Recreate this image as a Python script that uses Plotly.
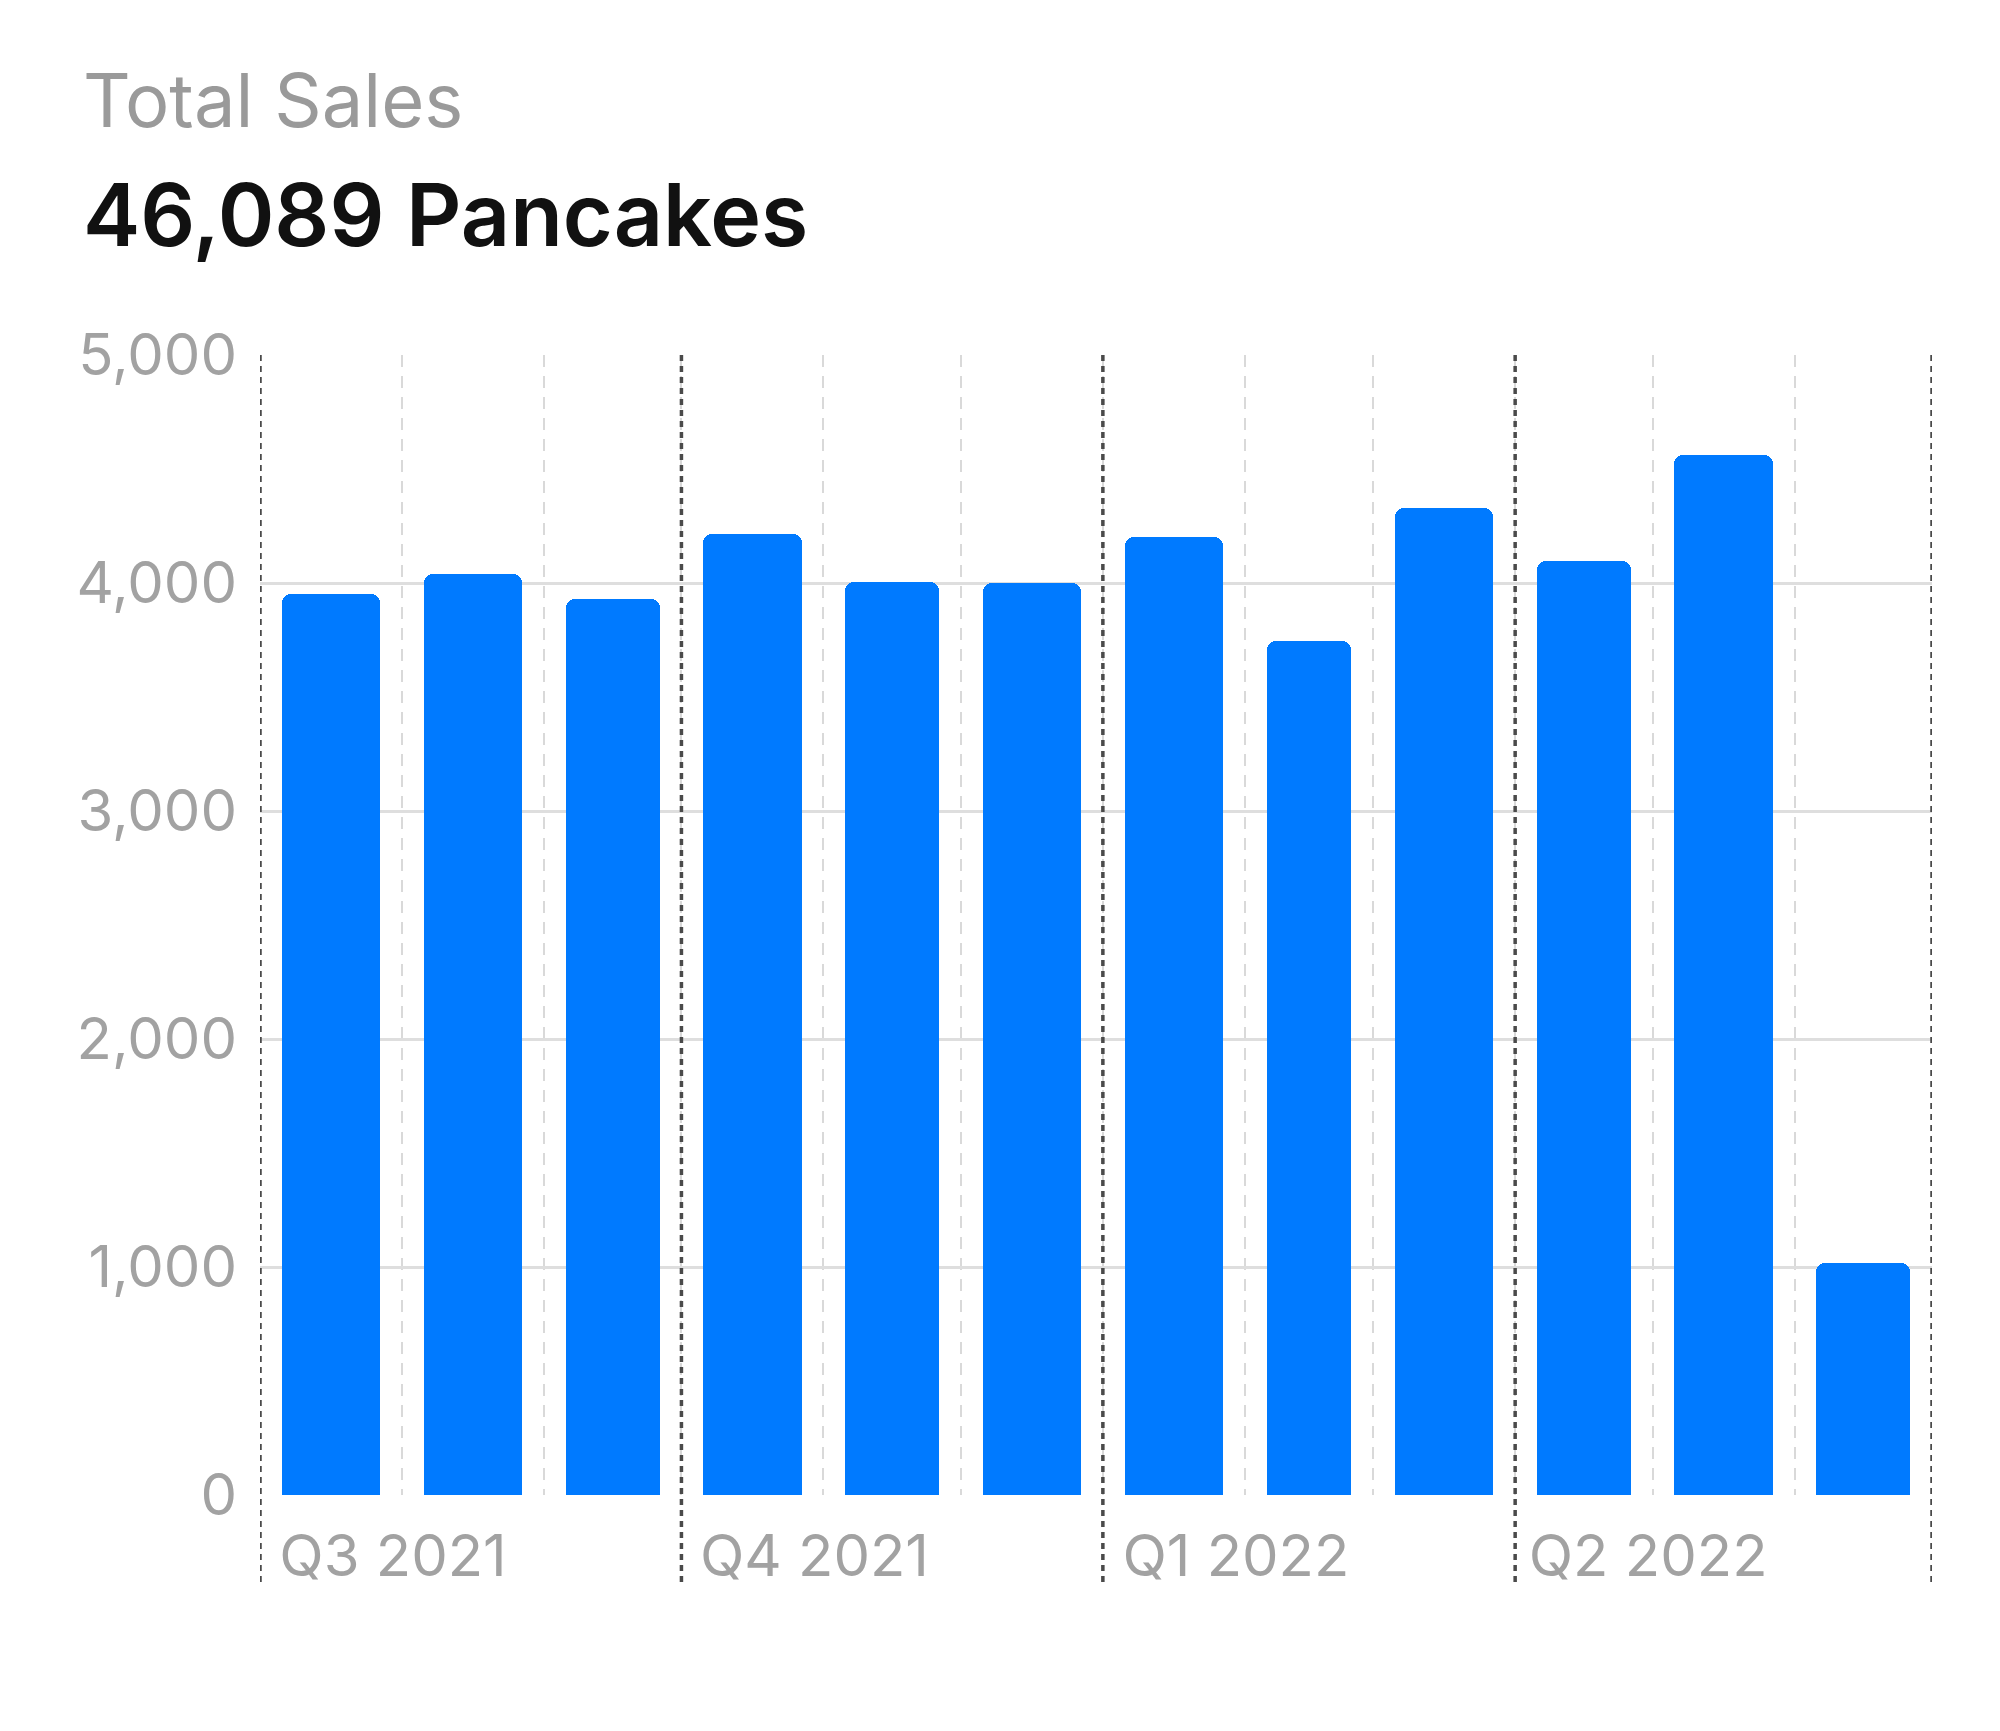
import pandas as pd
import plotly.graph_objects as go

# ---- data ----
months = ["2021-07", "2021-08", "2021-09", "2021-10", "2021-11", "2021-12",
          "2022-01", "2022-02", "2022-03", "2022-04", "2022-05", "2022-06"]
sales = [3950, 4040, 3930, 4215, 4005, 4000, 4200, 3745, 4330, 4095, 4560, 1019]
quarter_starts = ["2021-07-01", "2021-10-01", "2022-01-01", "2022-04-01", "2022-07-01"]
quarter_labels = ["Q3 2021", "Q4 2021", "Q1 2022", "Q2 2022", ""]
y_ticks = [0, 1000, 2000, 3000, 4000, 5000]

# ---- derived positions (month middles, widths) ----
starts = pd.to_datetime([m + "-01" for m in months])
ends = starts + pd.offsets.MonthBegin(1)
centers = [s + (e - s) / 2 for s, e in zip(starts, ends)]
DAY_MS = 86400000
widths = [((e - s).days - 9.5) * DAY_MS for s, e in zip(starts, ends)]

W, H = 2000, 1731
OFF = 8  # page body margin
L, T = 260 - OFF, 355 - OFF
plot_w, plot_h = 1672, 1140
R = W - L - plot_w
B = H - T - plot_h

def px_x(px):
    return (px - OFF - L) / plot_w

def px_y(py):
    return (T + plot_h - (py - OFF)) / plot_h

FONT = "Inter, Liberation Sans, Arial, sans-serif"

fig = go.Figure()
fig.add_trace(go.Bar(
    x=centers, y=sales, width=widths,
    marker=dict(color="#007AFF", cornerradius=9, line=dict(width=0)),
    hoverinfo="x+y",
))

# quarter dotted lines (extend below the axis through labels)
for q in quarter_starts:
    fig.add_shape(type="line", xref="x", yref="paper",
                  x0=q, x1=q, y0=px_y(1582), y1=1,
                  line=dict(color="#4a4a4a", width=3.5, dash="6px,5px"),
                  layer="above")

fig.update_layout(
    width=W, height=H,
    margin=dict(l=L, r=R, t=T, b=B, pad=0),
    paper_bgcolor="white", plot_bgcolor="white",
    showlegend=False,
    bargap=0,
    font=dict(family=FONT, color="#9a9a9a"),
    xaxis=dict(
        type="date",
        range=[quarter_starts[0], quarter_starts[-1]],
        tickvals=quarter_starts, ticktext=quarter_labels,
        tickfont=dict(size=58, color="#a2a2a2", family=FONT),
        ticks="", showgrid=False, zeroline=False, showline=False,
        ticklabelshift=133, ticklabelstandoff=22,
        minor=dict(dtick="M1", tick0="2021-07-01", showgrid=True,
                   gridcolor="#d9d9d9", gridwidth=1.5, griddash="12px,9px",
                   ticks=""),
        fixedrange=True,
    ),
    yaxis=dict(
        range=[0, 5000], tickvals=y_ticks, tickformat=",",
        tickfont=dict(size=58, color="#a2a2a2", family=FONT),
        ticks="", showgrid=True, gridcolor="#dedede", gridwidth=2.5,
        zeroline=False, showline=False, ticklabelstandoff=22,
        fixedrange=True,
    ),
    annotations=[
        dict(text="Total Sales", xref="paper", yref="paper",
             x=px_x(81), y=px_y(100), xanchor="left", yanchor="middle",
             showarrow=False, font=dict(size=74, color="#9a9a9a", family=FONT)),
        dict(text=f"{sum(sales):,} Pancakes", xref="paper", yref="paper",
             x=px_x(81), y=px_y(215), xanchor="left", yanchor="middle",
             showarrow=False,
             font=dict(size=86, color="#111111", family=FONT, weight=600)),
    ],
)

fig.write_html("out.html", config={"displayModeBar": False})
